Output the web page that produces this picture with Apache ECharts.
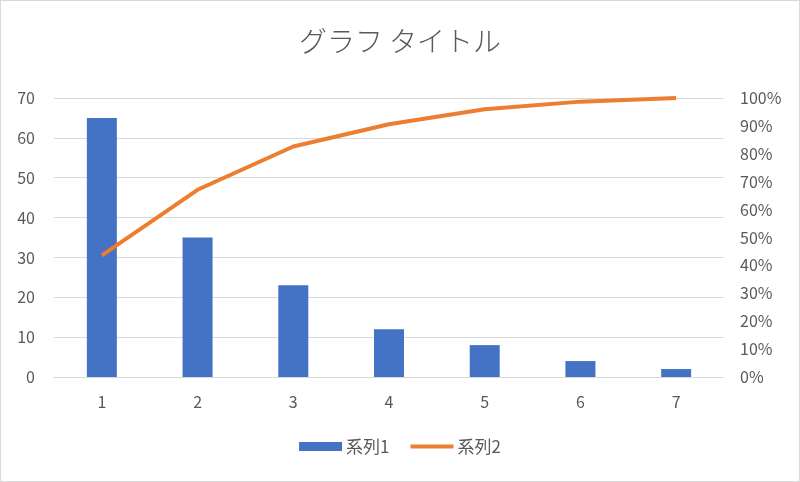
<!DOCTYPE html>
<html><head><meta charset="utf-8">
<script src="https://cdn.jsdelivr.net/npm/echarts@6/dist/echarts.min.js"></script>
<style>
html,body{margin:0;padding:0;background:#fff;}
#c{width:798px;height:480px;border:1px solid #d9d9d9;}
</style></head>
<body><div id="c"></div>
<script>
const categories = ['1','2','3','4','5','6','7'];
const series1 = [65, 35, 23, 12, 8, 4, 2];
const series2 = [0.436, 0.671, 0.826, 0.906, 0.960, 0.987, 1.0];
const leftTicks = {min:0, max:70, interval:10};
const rightTicks = {min:0, max:1, interval:0.1};

const font = '"Noto Sans CJK JP", "Noto Sans", sans-serif';
const chart = echarts.init(document.getElementById('c'), null, {renderer:'canvas'});
chart.setOption({
  animation:false,
  title:{text:'グラフ タイトル', left:'center', top:21,
    textStyle:{fontFamily:font, fontSize:28, fontWeight:300, color:'#595959'}},
  legend:{bottom:21, left:'center', itemWidth:43, itemHeight:9, itemGap:21,
    textStyle:{fontFamily:font, fontSize:17, color:'#595959', padding:[0,0,0,-1]},
    data:[{name:'系列1', icon:'rect'},
          {name:'系列2', icon:'path://M0,0 L43,0 L43,4 L0,4 Z'}]},
  grid:{left:53, right:75, top:97, bottom:104},
  xAxis:{type:'category', data:categories,
    axisLine:{lineStyle:{color:'#d9d9d9'}}, axisTick:{show:false},
    axisLabel:{fontFamily:font, fontSize:16, color:'#595959', margin:17}},
  yAxis:[
    {type:'value', min:leftTicks.min, max:leftTicks.max, interval:leftTicks.interval,
     axisLine:{show:false}, axisTick:{show:false},
     axisLabel:{fontFamily:font, fontSize:16, color:'#595959', margin:19},
     splitLine:{lineStyle:{color:'#d9d9d9'}}},
    {type:'value', min:rightTicks.min, max:rightTicks.max, interval:rightTicks.interval,
     axisLine:{show:false}, axisTick:{show:false}, splitLine:{show:false},
     axisLabel:{fontFamily:font, fontSize:16, color:'#595959', margin:16,
       formatter:v=>Math.round(v*100)+'%'}}
  ],
  series:[
    {name:'系列1', type:'bar', data:series1, barWidth:30, itemStyle:{color:'#4472c4'}},
    {name:'系列2', type:'line', yAxisIndex:1, data:series2, symbol:'none',
     lineStyle:{color:'#ed7d31', width:4}, itemStyle:{color:'#ed7d31'}}
  ]
});
</script></body></html>
